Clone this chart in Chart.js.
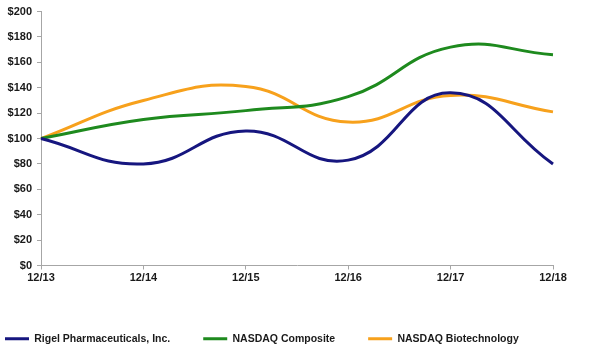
<!DOCTYPE html>
<html>
<head>
<meta charset="utf-8">
<script src="https://cdn.jsdelivr.net/npm/chart.js@4/dist/chart.umd.min.js"></script>
<style>
  html, body { margin: 0; padding: 0; background: #ffffff; }
  #wrap { width: 594px; height: 356px; position: relative; }
</style>
</head>
<body>
<div id="wrap"><canvas id="c" width="594" height="356"></canvas></div>
<script>
const categories = ['12/13', '12/14', '12/15', '12/16', '12/17', '12/18'];
const rigel = [100, 80, 106, 83, 136, 80];
const nasdaqComposite = [100, 115, 122, 133, 172, 166];
const nasdaqBiotech = [100, 130, 141, 113, 134, 121];
const seriesNames = ['Rigel Pharmaceuticals, Inc.', 'NASDAQ Composite', 'NASDAQ Biotechnology'];
const yTicks = [0, 20, 40, 60, 80, 100, 120, 140, 160, 180, 200];

const colors = ['#16167F', '#1E8A1E', '#F7A11C'];
const font = { family: '"Liberation Sans", Arial, sans-serif', size: 11, weight: 'bold' };
const legendFont = { family: '"Liberation Sans", Arial, sans-serif', size: 10.5, weight: 'bold' };
const axisColor = '#A6A6A6';

function ds(label, data, color) {
  return {
    label, data,
    borderColor: color, backgroundColor: color,
    borderWidth: 3, pointRadius: 0, pointHoverRadius: 0,
    tension: 0.45, fill: false
  };
}

new Chart(document.getElementById('c'), {
  type: 'line',
  data: {
    labels: categories,
    datasets: [
      ds(seriesNames[0], rigel, colors[0]),
      ds(seriesNames[1], nasdaqComposite, colors[1]),
      ds(seriesNames[2], nasdaqBiotech, colors[2])
    ]
  },
  options: {
    responsive: false,
    animation: false,
    layout: { padding: { top: 6, left: -28, right: 0, bottom: 2 } },
    plugins: {
      tooltip: { enabled: false },
      legend: {
        position: 'bottom',
        align: 'start',
        labels: {
          usePointStyle: true,
          pointStyle: 'line',
          pointStyleWidth: 24,
          padding: 33,
          color: '#1a1a1a',
          font: legendFont
        }
      }
    },
    scales: {
      x: {
        offset: false,
        grid: { drawOnChartArea: false, drawTicks: true, tickLength: 4, color: axisColor },
        border: { color: axisColor, width: 1 },
        ticks: { color: '#1a1a1a', font: font, padding: 2, maxRotation: 0, autoSkip: false },
        afterFit: (s) => { s.height = 35; }
      },
      y: {
        min: 0, max: 200,
        grid: { drawOnChartArea: false, drawTicks: true, tickLength: 4, color: axisColor },
        border: { color: axisColor, width: 1 },
        afterBuildTicks: (s) => { s.ticks = yTicks.map(v => ({ value: v })); },
        ticks: { color: '#1a1a1a', font: font, padding: 5, callback: (v) => '$' + v },
        afterFit: (s) => { s.width = 69; }
      },
      yRight: {
        position: 'right',
        display: true,
        grid: { display: false },
        border: { display: false },
        ticks: { display: false },
        afterFit: (s) => { s.width = 41; }
      }
    }
  }
});
</script>
</body>
</html>
